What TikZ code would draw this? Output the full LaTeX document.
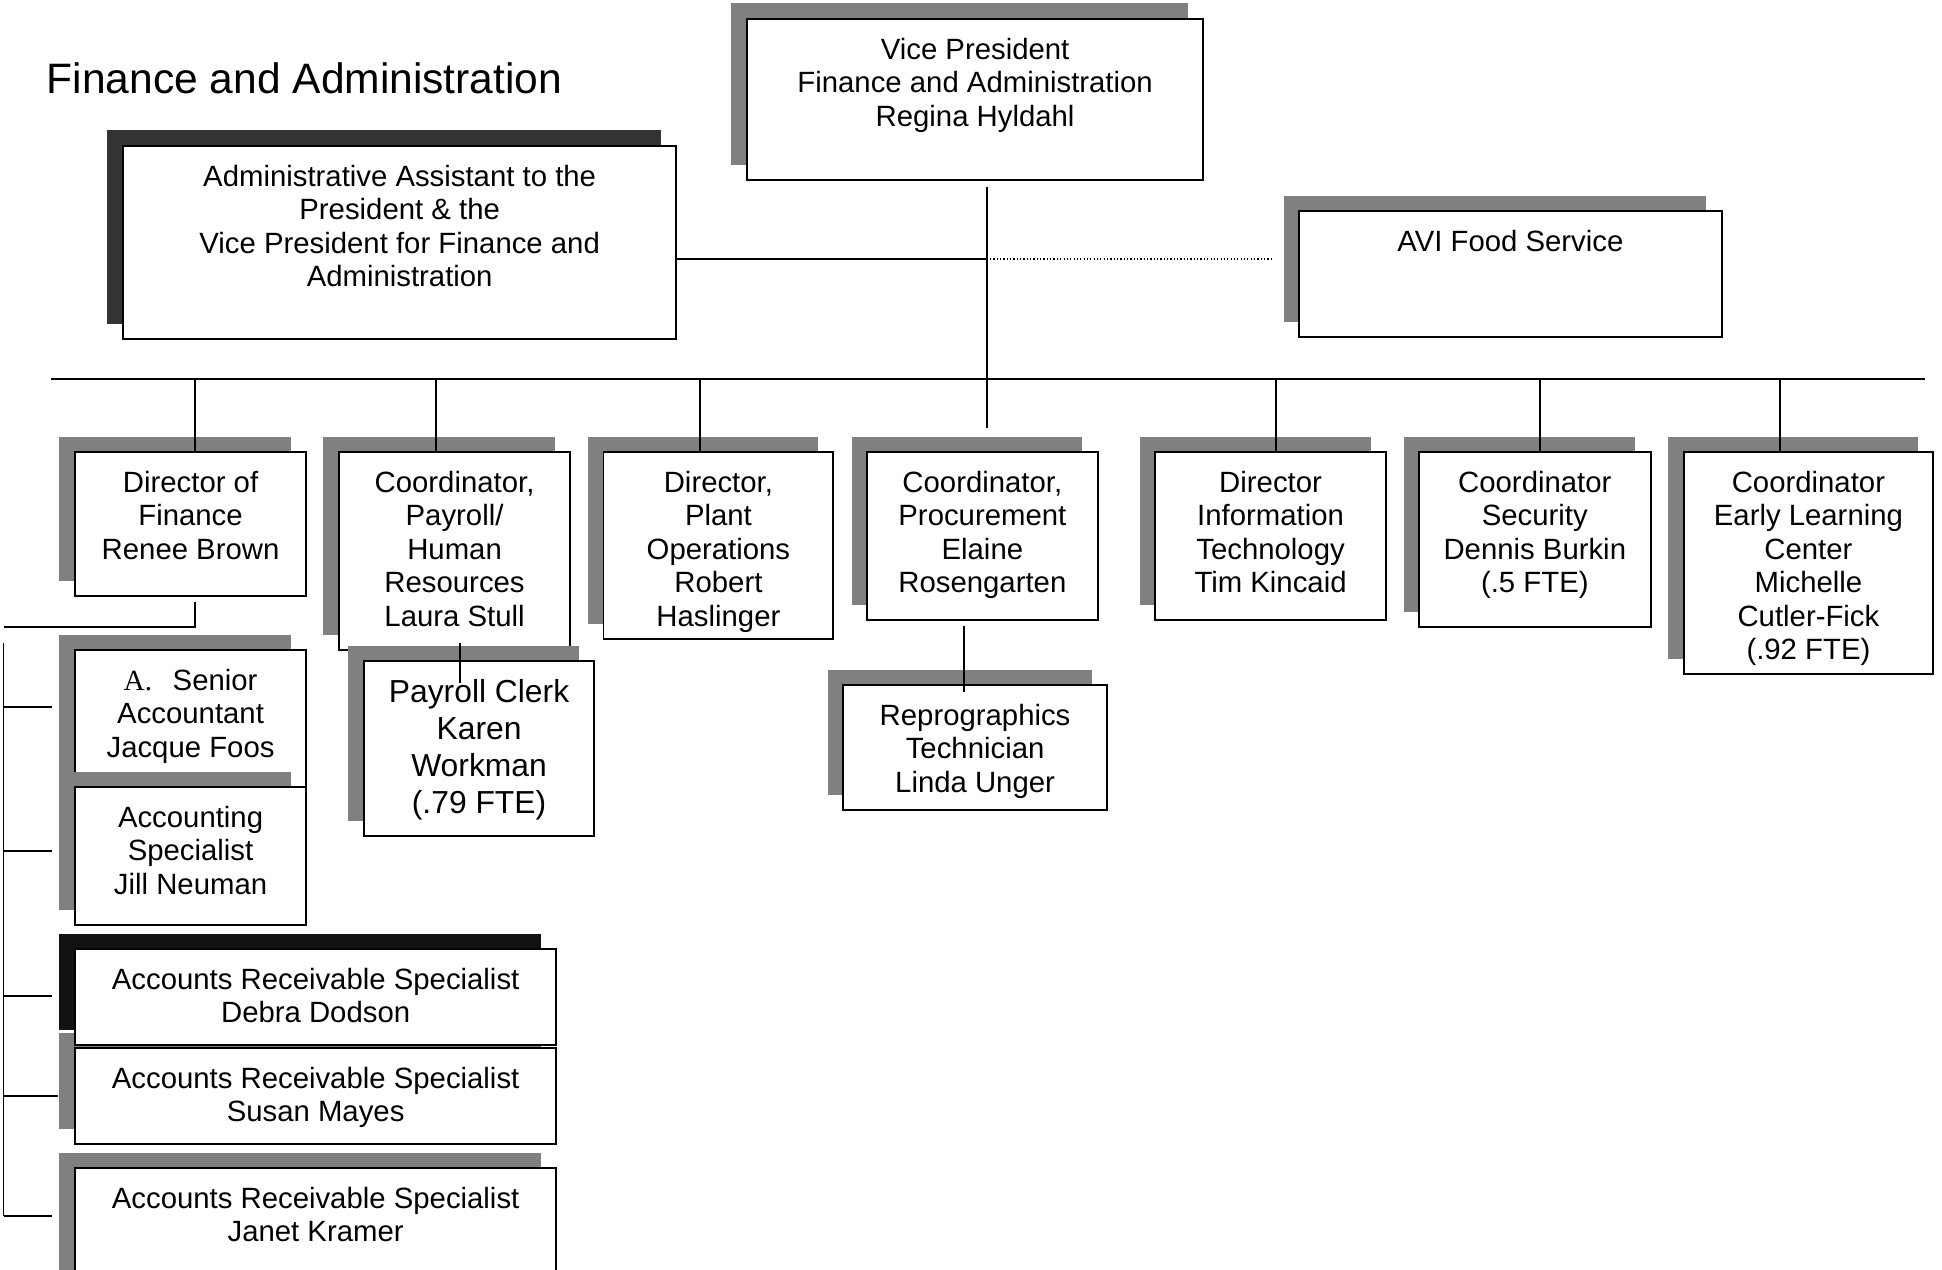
\documentclass[tikz,border=0pt]{standalone}
\usepackage{fontspec}
\setmainfont{Liberation Sans}
\newfontfamily\romana{Liberation Serif}
\usetikzlibrary{calc, shadows}
\definecolor{grisSombra}{HTML}{808080}
\definecolor{grisOscuro}{HTML}{333333}
\definecolor{negroSombra}{HTML}{111111}
\tikzset{
  caja/.style={
    draw=black, line width=0.5pt, fill=white,
    anchor=north west, inner sep=0pt, outer sep=0pt,
    drop shadow={shadow xshift=-0.155cm, shadow yshift=0.155cm,
      fill=grisSombra, opacity=1}
  },
  cajaOscura/.style={caja,
    drop shadow={shadow xshift=-0.155cm, shadow yshift=0.155cm,
      fill=grisOscuro, opacity=1}},
  cajaNegra/.style={caja,
    drop shadow={shadow xshift=-0.155cm, shadow yshift=0.155cm,
      fill=negroSombra, opacity=1}},
  texto/.style={anchor=north, yshift=-5.15pt, inner sep=0pt, align=center,
    font=\fontsize{8.34pt}{9.53pt}\selectfont},
  textoGrande/.style={texto, font=\fontsize{9.05pt}{10.5pt}\selectfont},
  titulo/.style={anchor=base west, inner sep=0pt,
    font=\fontsize{12.1pt}{14pt}\selectfont},
  linea/.style={draw=black, line width=0.4pt},
  punteada/.style={draw=black, line width=0.4pt, dash pattern=on 0.35pt off 0.6pt},
}

\begin{document}
\begin{tikzpicture}[x=0.01cm, y=-0.01cm]
  \useasboundingbox (0,0) rectangle (1942,1269);
  \clip (0,0) rectangle (1942,1269);

  \node[titulo] (titulo) at (46,93) {Finance and Administration};

  % primer nivel
  \node[caja, minimum width=4.56cm, minimum height=1.61cm,
    label={[texto, name=tVP]north:{Vice President\\Finance and Administration\\Regina Hyldahl}}]
    (vicepresidente) at (747,19) {};
  \node[cajaOscura, minimum width=5.53cm, minimum height=1.93cm,
    label={[texto, name=tAsis]north:{Administrative Assistant to the\\President \& the\\Vice President for Finance and\\Administration}}]
    (asistente) at (123,146) {};
  \node[caja, minimum width=4.225cm, minimum height=1.26cm,
    label={[texto, name=tAVI]north:{AVI Food Service}}]
    (avi) at (1299,211) {};

  % directores y coordinadores
  \node[caja, minimum width=2.31cm, minimum height=1.44cm,
    label={[texto, name=tFin]north:{Director of\\Finance\\Renee Brown}}]
    (finanzas) at (75,452) {};
  \node[caja, minimum width=2.31cm, minimum height=1.98cm,
    label={[texto, name=tNom]north:{Coordinator,\\Payroll/\\Human\\Resources\\Laura Stull}}]
    (nomina) at (339,452) {};
  \node[caja, minimum width=2.295cm, minimum height=1.87cm,
    label={[texto, name=tPla]north:{Director,\\Plant\\Operations\\Robert\\Haslinger}}]
    (planta) at (603.6,452) {};
  \node[caja, minimum width=2.306cm, minimum height=1.68cm,
    label={[texto, name=tCom]north:{Coordinator,\\Procurement\\Elaine\\Rosengarten}}]
    (compras) at (867,452) {};
  \node[caja, minimum width=2.31cm, minimum height=1.68cm,
    label={[texto, name=tSis]north:{Director\\Information\\Technology\\Tim Kincaid}}]
    (sistemas) at (1155,452) {};
  \node[caja, minimum width=2.315cm, minimum height=1.75cm,
    label={[texto, name=tSeg]north:{Coordinator\\Security\\Dennis Burkin\\(.5 FTE)}}]
    (seguridad) at (1419,452) {};
  \node[caja, minimum width=2.493cm, minimum height=2.22cm,
    label={[texto, name=tInf]north:{Coordinator\\Early Learning\\Center\\Michelle\\Cutler-Fick\\(.92 FTE)}}]
    (infancia) at (1683.7,452) {};

  % personal
  \node[caja, minimum width=2.30cm, minimum height=1.75cm,
    label={[textoGrande, name=tAux]north:{Payroll Clerk\\Karen\\Workman\\(.79 FTE)}}]
    (auxNomina) at (364,661) {};
  \node[caja, minimum width=2.64cm, minimum height=1.25cm,
    label={[texto, name=tRep]north:{Reprographics\\Technician\\Linda Unger}}]
    (reprografia) at (843,685) {};
  \node[caja, minimum width=2.31cm, minimum height=1.40cm,
    label={[texto, name=tSr]north:{{\romana A.}\hspace{0.7em}Senior\\Accountant\\Jacque Foos}}]
    (contadorSr) at (75,650) {};
  \node[caja, minimum width=2.31cm, minimum height=1.38cm,
    label={[texto, name=tCon]north:{Accounting\\Specialist\\Jill Neuman}}]
    (contabilidad) at (75,787) {};
  \node[caja, minimum width=4.81cm, minimum height=0.96cm,
    label={[texto, name=tCtaB]north:{Accounts Receivable Specialist\\Susan Mayes}}]
    (cuentasB) at (75,1048) {};
  \node[cajaNegra, minimum width=4.81cm, minimum height=0.96cm,
    label={[texto, name=tCtaA]north:{Accounts Receivable Specialist\\Debra Dodson}}]
    (cuentasA) at (75,949) {};
  \node[caja, minimum width=4.81cm, minimum height=1.40cm,
    label={[texto, name=tCtaC]north:{Accounts Receivable Specialist\\Janet Kramer}}]
    (cuentasC) at (75,1168) {};

  % conectores
  \coordinate (busO) at (51,379);
  \coordinate (busE) at (1925,379);
  \coordinate (finVP) at (987,428);
  \coordinate (finPunteada) at (1273,259);
  \coordinate (esquina) at (3.6,627);
  \coordinate (espinaA) at (3.6,643);
  \coordinate (espinaB) at (3.6,1216);

  \draw[linea] ($(vicepresidente.south -| finVP)+(0,7)$) -- (finVP);
  \draw[linea] (asistente.east |- finPunteada) -- (finVP |- finPunteada);
  \draw[punteada] ($(finVP |- finPunteada)+(3,0)$) -- (finPunteada);
  \draw[linea] (busO) -- (busE);
  \foreach \x/\n in {195/finanzas, 436/nomina, 700/planta,
                     1276/sistemas, 1540/seguridad, 1780/infancia}
    \draw[linea] (\x,0 |- busO) -- (\x,0 |- \n.north);

  \draw[linea] ($(nomina.south -| 460,0)+(0,-7)$) -- ($(auxNomina.north -| 460,0)+(0,22)$);
  \draw[linea] ($(compras.south -| 964,0)+(0,6)$) -- ($(reprografia.north -| 964,0)+(0,7)$);

  \draw[linea] ($(finanzas.south -| 195,0)+(0,6)$) |- (esquina);
  \draw[linea] (espinaA) -- (espinaB);
  \foreach \y/\l in {707/52, 851/52, 996/52, 1096/58, 1216/52}
    \draw[linea] (espinaA |- 0,\y) -- (\l,\y);
\end{tikzpicture}
\end{document}
